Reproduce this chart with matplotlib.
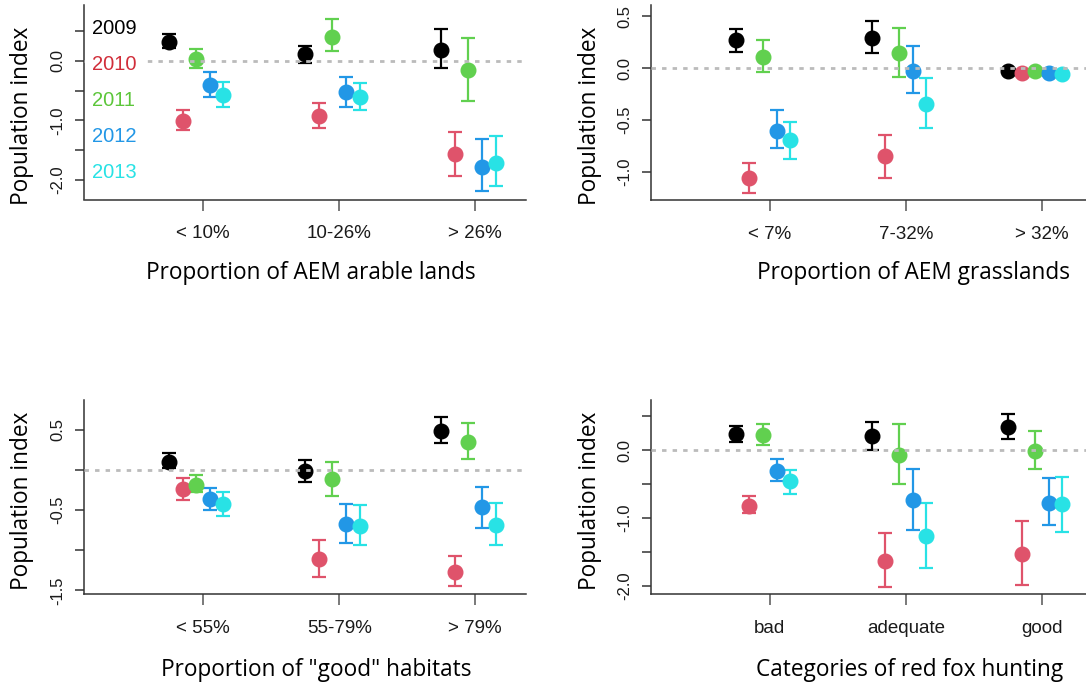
import numpy as np
import matplotlib
matplotlib.use("Agg")
import matplotlib.pyplot as plt
from matplotlib.lines import Line2D

# Years and colours (R 4 palette)
years = ["2009", "2010", "2011", "2012", "2013"]
colors = ["#000000", "#DF536B", "#61D04F", "#2297E6", "#28E2E5"]
legend_colors = ["#000000", "#D12E3A", "#5CC63A", "#2297E6", "#28E2E5"]

# Panel 1: AEM arable lands
arable_cats = ["< 10%", "10-26%", "> 26%"]
arable_est = [[0.32, 0.12, 0.18], [-1.01, -0.92, -1.57], [0.03, 0.41, -0.16],
              [-0.40, -0.53, -1.78], [-0.57, -0.61, -1.71]]
arable_lo = [[0.21, -0.03, -0.12], [-1.16, -1.13, -1.93], [-0.12, 0.16, -0.67],
             [-0.60, -0.78, -2.18], [-0.77, -0.82, -2.11]]
arable_hi = [[0.45, 0.25, 0.53], [-0.83, -0.71, -1.19], [0.20, 0.70, 0.38],
             [-0.19, -0.27, -1.32], [-0.36, -0.37, -1.27]]

# Panel 2: AEM grasslands
grass_cats = ["< 7%", "7-32%", "> 32%"]
grass_est = [[0.27, 0.29, -0.03], [-1.06, -0.85, -0.05], [0.11, 0.15, -0.03],
             [-0.60, -0.03, -0.05], [-0.69, -0.34, -0.055]]
grass_lo = [[0.16, 0.15, -0.05], [-1.20, -1.06, -0.07], [-0.04, -0.08, -0.05],
            [-0.77, -0.24, -0.07], [-0.87, -0.58, -0.075]]
grass_hi = [[0.38, 0.46, -0.01], [-0.91, -0.64, -0.03], [0.27, 0.39, -0.01],
            [-0.40, 0.21, -0.03], [-0.52, -0.09, -0.035]]

# Panel 3: "good" habitats
habitat_cats = ["< 55%", "55-79%", "> 79%"]
habitat_est = [[0.10, -0.01, 0.49], [-0.24, -1.11, -1.27], [-0.19, -0.11, 0.35],
               [-0.36, -0.67, -0.46], [-0.43, -0.70, -0.69]]
habitat_lo = [[0.02, -0.15, 0.33], [-0.38, -1.33, -1.45], [-0.28, -0.32, 0.13],
              [-0.50, -0.91, -0.72], [-0.57, -0.94, -0.93]]
habitat_hi = [[0.21, 0.12, 0.66], [-0.10, -0.87, -1.07], [-0.06, 0.10, 0.58],
              [-0.22, -0.42, -0.21], [-0.27, -0.44, -0.41]]

# Panel 4: red fox hunting
fox_cats = ["bad", "adequate", "good"]
fox_est = [[0.24, 0.21, 0.34], [-0.82, -1.63, -1.53], [0.23, -0.07, -0.01],
           [-0.31, -0.73, -0.78], [-0.46, -1.26, -0.80]]
fox_lo = [[0.12, 0.00, 0.16], [-0.93, -2.02, -1.99], [0.08, -0.50, -0.28],
          [-0.46, -1.17, -1.11], [-0.64, -1.74, -1.20]]
fox_hi = [[0.36, 0.42, 0.54], [-0.67, -1.22, -1.05], [0.38, 0.38, 0.29],
          [-0.13, -0.28, -0.41], [-0.29, -0.78, -0.40]]

offsets = [-0.25, -0.15, -0.05, 0.05, 0.15]

W, H = 1086, 688
fig = plt.figure(figsize=(W / 100, H / 100), dpi=100)

TICK_FONT = ["Liberation Sans", "DejaVu Sans"]
TITLE_FONT = ["Open Sans", "DejaVu Sans"]


def px_axes(left, top, right, bottom):
    return fig.add_axes([left / W, 1 - bottom / H, (right - left) / W, (bottom - top) / H])


def panel(ax, cats, est, lo, hi, ylim, yticks, ylabels, xtitle, title_xy, ylab_xy, legend=False):
    x = np.arange(1, len(cats) + 1)
    for k in range(len(years)):
        e = np.array(est[k])
        err = [e - np.array(lo[k]), np.array(hi[k]) - e]
        ax.errorbar(x + offsets[k], e, yerr=err, fmt="o", color=colors[k],
                    ms=10.5, elinewidth=1.6, capsize=5, capthick=1.6, zorder=3)
    ax.axhline(0, color="#BBBBBB", lw=2, dashes=(1.6, 2.2), zorder=4)
    ax.set_xlim(0.125, 3.37)
    ax.set_ylim(*ylim)
    for s in ["top", "right"]:
        ax.spines[s].set_visible(False)
    for s in ["left", "bottom"]:
        ax.spines[s].set_color("#333333")
        ax.spines[s].set_linewidth(1.1)
    ax.set_xticks(x)
    ax.set_xticklabels(cats, fontsize=13.5, family=TICK_FONT, color="#1a1a1a")
    ax.set_yticks(yticks)
    ax.set_yticklabels(ylabels, fontsize=12, family=TICK_FONT, color="#1a1a1a",
                       rotation=90, va="center")
    ax.tick_params(axis="x", length=8, width=1.1, color="#555555", pad=10.5)
    ax.tick_params(axis="y", length=6.5, width=1.1, color="#333333", pad=7)
    fig.text(title_xy[0] / W, 1 - title_xy[1] / H, xtitle, family=TITLE_FONT,
             fontsize=16.3, ha="center", va="center")
    fig.text(ylab_xy[0] / W, 1 - ylab_xy[1] / H, "Population index", family=TITLE_FONT,
             fontsize=16.3, ha="center", va="center", rotation=90)
    if legend:
        handles = [Line2D([], [], lw=0) for _ in years]
        leg = ax.legend(handles, years, loc="upper left", bbox_to_anchor=(0.003, 0.962),
                        handlelength=0, handletextpad=0, labelspacing=0.84,
                        frameon=True, facecolor="white", edgecolor="none", framealpha=1,
                        borderpad=0.35, borderaxespad=0,
                        prop={"family": TICK_FONT, "size": 14.5})
        for t, c in zip(leg.get_texts(), legend_colors):
            t.set_color(c)
        leg.set_zorder(5)


def lab(vals, shown):
    return [f"{v:.1f}" if v in shown else "" for v in vals]


ax1 = px_axes(84, 5, 525.6, 199.5)
t1 = [0.5, 0.0, -0.5, -1.0, -1.5, -2.0]
panel(ax1, arable_cats, arable_est, arable_lo, arable_hi, (-2.33, 0.94), t1,
      lab(t1, [0.0, -1.0, -2.0]), "Proportion of AEM arable lands", (311, 273),
      (22.5, 116), legend=True)

ax2 = px_axes(650.7, 5, 1092.3, 200)
t2 = [0.5, 0.0, -0.5, -1.0]
panel(ax2, grass_cats, grass_est, grass_lo, grass_hi, (-1.27, 0.61), t2,
      lab(t2, t2), "Proportion of AEM grasslands", (913.5, 273), (589.7, 116))

ax3 = px_axes(84, 400, 525.6, 594.3)
t3 = [0.5, 0.0, -0.5, -1.0, -1.5]
panel(ax3, habitat_cats, habitat_est, habitat_lo, habitat_hi, (-1.55, 0.87), t3,
      lab(t3, [0.5, -0.5, -1.5]), 'Proportion of "good" habitats', (316.6, 670),
      (22.5, 501))

ax4 = px_axes(650.7, 400, 1092.3, 594)
t4 = [0.5, 0.0, -0.5, -1.0, -1.5, -2.0]
panel(ax4, fox_cats, fox_est, fox_lo, fox_hi, (-2.12, 0.74), t4,
      lab(t4, [0.0, -1.0, -2.0]), "Categories of red fox hunting", (909.5, 670),
      (589.7, 501))

fig.savefig("out.png", dpi=100)
